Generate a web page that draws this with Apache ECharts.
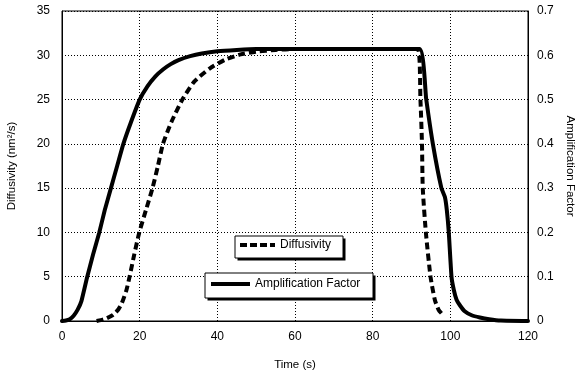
<!DOCTYPE html>
<html>
<head>
<meta charset="utf-8">
<script src="https://cdn.jsdelivr.net/npm/echarts@6/dist/echarts.min.js"></script>
<style>
  html, body { margin: 0; padding: 0; background: #fff; }
  #chart { width: 576px; height: 377px; }
</style>
</head>
<body>
<div id="chart"></div>
<script>
// Diffusivity (nm^2/s) versus time (s), left axis
const diffTime = [8.9, 10, 11.5, 13, 13.6, 14.5, 15.4, 16.6, 17.4, 18.6, 19.9, 21.6, 23.3, 24.7, 26, 28.2, 31, 34, 38, 42, 46, 50, 55, 60, 70, 80, 91.6, 92.3, 92.7, 92.9, 93.7, 94.9, 96, 97, 98.3];
const diffValues = [0, 0.1, 0.3, 0.65, 0.87, 1.3, 2.0, 3.5, 5, 7.5, 10, 12.5, 15, 17.5, 20, 22.5, 25, 27, 28.5, 29.5, 30.1, 30.4, 30.6, 30.7, 30.7, 30.7, 30.7, 25, 20, 15, 10, 5, 2.4, 1.25, 0.6];

// Amplification factor versus time (s), right axis
const ampTime = [0, 1, 2, 3, 4, 5, 6.5, 8, 9.6, 11, 12.6, 14.2, 15.8, 17.8, 20, 22, 24, 26, 28, 30, 33, 36, 40, 45, 50, 60, 70, 80, 92.1, 93.8, 95.5, 97.7, 98.6, 99.1, 99.6, 100.3, 100.9, 101.6, 102.5, 103.7, 105.5, 107.6, 110, 113, 120];
const ampValues = [0, 0.001, 0.004, 0.012, 0.025, 0.045, 0.1, 0.15, 0.2, 0.25, 0.3, 0.35, 0.4, 0.45, 0.5, 0.53, 0.552, 0.568, 0.58, 0.589, 0.598, 0.604, 0.609, 0.612, 0.614, 0.614, 0.614, 0.614, 0.614, 0.5, 0.4, 0.3, 0.28, 0.25, 0.2, 0.1, 0.07, 0.048, 0.035, 0.022, 0.013, 0.008, 0.004, 0.001, 0];

const pairs = (xs, ys) => xs.map((x, i) => [x, ys[i]]);

const FONT = 'Liberation Sans, Arial, sans-serif';
const gridDots = { color: '#000', width: 1, type: [1, 2] };
const tickText = { color: '#000', fontSize: 12, fontFamily: FONT };
const nameText = { color: '#000', fontSize: 11.5, fontFamily: FONT };

// Legend keys: a dashed bar and a solid bar
const dashedKey = 'path://M0,0h7v4h-7z M10,0h7v4h-7z M20,0h7v4h-7z M30,0h5v4h-5z';
const solidKey = 'path://M0,0h40v4h-40z';

// Framed legend panel with a hard drop shadow at the lower right
function legendFrame(x, y, w, h) {
  return [
    { type: 'rect', left: x + 3, top: y + 3, z: 1, silent: true,
      shape: { width: w, height: h }, style: { fill: '#000' } },
    { type: 'rect', left: x, top: y, z: 2, silent: true,
      shape: { width: w, height: h }, style: { fill: '#fff', stroke: '#000', lineWidth: 1 } }
  ];
}

const chart = echarts.init(document.getElementById('chart'));
chart.setOption({
  animation: false,
  backgroundColor: '#fff',
  grid: {
    left: 62, right: 48, top: 11, bottom: 56,
    outerBoundsMode: 'none', containLabel: false,
    show: true, borderColor: '#000', borderWidth: 1, backgroundColor: 'transparent'
  },
  graphic: [].concat(legendFrame(234.5, 235.5, 108, 22), legendFrame(204.5, 272.5, 168, 25)),
  xAxis: {
    type: 'value', min: 0, max: 120, interval: 20,
    name: 'Time (s)', nameLocation: 'middle', nameGap: 38, nameTextStyle: nameText,
    axisLine: { show: true, lineStyle: { color: '#000', width: 1 } },
    axisTick: { show: false },
    axisLabel: Object.assign({ margin: 10 }, tickText),
    splitLine: { show: true, lineStyle: gridDots }
  },
  yAxis: [
    {
      type: 'value', min: 0, max: 35, interval: 5, position: 'left',
      name: 'Diffusivity (nm²/s)', nameLocation: 'middle', nameGap: 44, nameTextStyle: nameText,
      axisLine: { show: true, lineStyle: { color: '#000', width: 1 } },
      axisTick: { show: false },
      axisLabel: Object.assign({ margin: 12 }, tickText),
      splitLine: { show: true, lineStyle: gridDots }
    },
    {
      type: 'value', min: 0, max: 0.7, interval: 0.1, position: 'right',
      name: 'Amplification Factor', nameLocation: 'middle', nameGap: 33, nameRotate: -90, nameTextStyle: nameText,
      axisLine: { show: true, lineStyle: { color: '#000', width: 1 } },
      axisTick: { show: false },
      axisLabel: Object.assign({ margin: 9, formatter: v => v === 0 ? '0' : v.toFixed(1) }, tickText),
      splitLine: { show: false }
    }
  ],
  legend: [
    {
      data: [{ name: 'Diffusivity', icon: dashedKey }], left: 240, top: 239, orient: 'horizontal',
      padding: 0, itemWidth: 35, itemHeight: 4, z: 10,
      itemStyle: { color: '#000', borderWidth: 0 },
      textStyle: { color: '#000', fontSize: 12, fontFamily: FONT },
      selectedMode: false
    },
    {
      data: [{ name: 'Amplification Factor', icon: solidKey }], left: 211, top: 278, orient: 'horizontal',
      padding: 0, itemWidth: 39, itemHeight: 4, z: 10,
      itemStyle: { color: '#000', borderWidth: 0 },
      textStyle: { color: '#000', fontSize: 12, fontFamily: FONT },
      selectedMode: false
    }
  ],
  series: [
    {
      name: 'Amplification Factor', type: 'line', yAxisIndex: 1,
      data: pairs(ampTime, ampValues),
      symbol: 'none', smooth: 0.15,
      lineStyle: { color: '#000', width: 4, cap: 'round', join: 'round' },
      itemStyle: { color: '#000' },
      z: 2
    },
    {
      name: 'Diffusivity', type: 'line', yAxisIndex: 0,
      data: pairs(diffTime, diffValues),
      symbol: 'none', smooth: 0.2,
      lineStyle: { color: '#000', width: 4, type: [7, 4] },
      itemStyle: { color: '#000' },
      z: 3
    }
  ]
});
</script>
</body>
</html>
